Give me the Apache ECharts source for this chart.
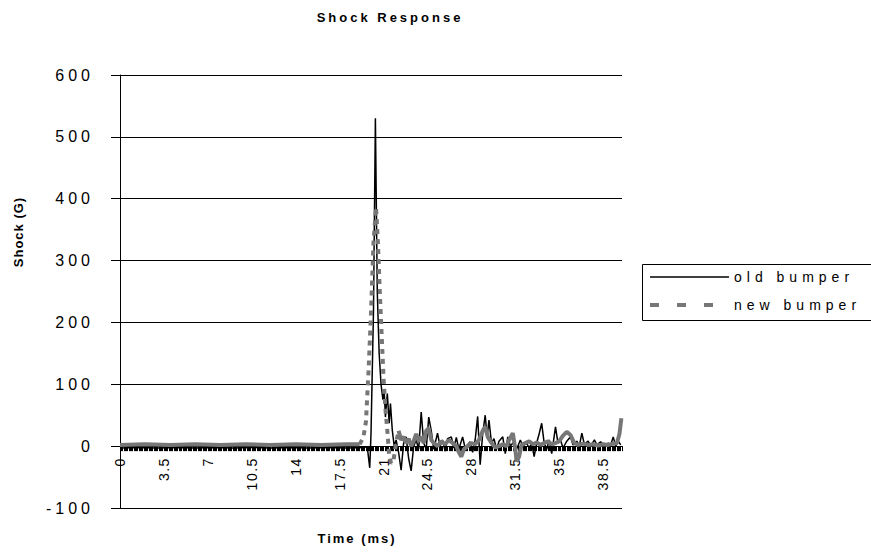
<!DOCTYPE html>
<html><head><meta charset="utf-8">
<script src="https://cdn.jsdelivr.net/npm/echarts@6.0.0/dist/echarts.min.js"></script>
<style>
html,body{margin:0;padding:0;background:#fff}
#c{width:871px;height:554px}
text[style*="lsA"]{letter-spacing:1.5px}
text[style*="lsB"]{letter-spacing:3px}
text[style*="lsC"]{letter-spacing:4px}
text[style*="lsD"]{letter-spacing:5px}
text[style*="lsE"]{letter-spacing:1px}
text[style*="lsF"]{letter-spacing:2px}
</style></head><body><div id="c"></div><script>
// ---- data (time in ms, shock in G) ----
const xTickLabels = ['0','3.5','7','10.5','14','17.5','21','24.5','28','31.5','35','38.5'];
const yTickLabels = ['-100','0','100','200','300','400','500','600'];

const oldBumper = [
 [0,-3],[1.5,-2],[3,-3],[4.5,-2],[6,-3],[7.5,-2],[9,-3],[10.5,-2],[12,-3],[13.5,-2],[15,-3],[16.5,-2],[18,-3],[19.5,-2],
 [19.7,-1],[19.9,-35],[20.0,20],[20.2,220],[20.35,530],[20.5,250],[20.65,150],[20.8,100],[20.95,75],[21.05,90],[21.15,47],
 [21.3,85],[21.45,37],[21.55,69],[21.7,25],[21.85,0],
 [22.0,10],[22.2,-10],[22.4,-39],[22.6,5],[22.8,15],[23.0,-20],[23.2,-40],[23.4,0],[23.6,10],[23.8,-5],[24.0,55],[24.2,5],
 [24.4,-5],[24.6,47],[24.8,25],[25.0,-5],[25.3,21],[25.5,0],[25.7,10],[25.9,-8],[26.1,12],[26.4,15],[26.6,-3],[26.8,14],
 [27.0,-5],[27.3,15],[27.5,-3],[27.9,7],[28.1,-10],[28.3,10],[28.5,48],[28.7,-30],[28.9,20],[29.1,50],[29.25,15],[29.4,42],
 [29.6,5],[29.8,12],[30.0,-5],[30.2,8],[30.5,15],[30.7,-12],[30.9,15],[31.1,0],[31.3,5],[31.6,-5],[31.9,10],[32.1,0],
 [32.4,5],[32.6,-3],[32.8,5],[33.0,-17],[33.2,5],[33.4,20],[33.6,37],[33.8,5],[34.0,-5],[34.2,10],[34.4,-12],[34.7,31],
 [34.9,5],[35.1,10],[35.3,-3],[35.6,8],[35.9,15],[36.1,2],[36.4,8],[36.6,0],[36.8,21],[37.0,3],[37.3,8],[37.5,0],
 [37.8,10],[38.0,2],[38.3,7],[38.6,0],[38.9,5],[39.1,2],[39.3,15],[39.5,0],[39.7,8],[39.9,2]
];

const newBumperPre = [
 [0,2],[2,3],[4,2],[6,3],[8,2],[10,3],[12,2],[14,3],[16,2],[18,3],[19.1,3]
];
const newBumperImpact = [
 [19.1,3],[19.4,15],[19.6,40],[19.8,120],[20.0,215],[20.2,330],[20.4,386],[20.55,330],[20.7,250],[20.85,180],
 [21.0,110],[21.15,60],[21.3,25],[21.45,-15],[21.6,-28],[21.8,-22],[22.0,5],[22.2,25]
];
const newBumperPost = [
 [22.2,25],[22.4,10],[22.6,15],[22.8,5],[23.0,12],[23.2,0],[23.4,8],[23.6,20],[23.8,8],[24.0,15],[24.2,5],[24.4,25],
 [24.6,29],[24.8,10],[25.0,5],[25.3,0],[25.6,8],[25.9,3],[26.2,10],[26.5,5],[26.8,0],[27.0,-10],[27.2,-17],[27.4,-5],
 [27.7,0],[28.0,5],[28.3,3],[28.6,10],[28.9,25],[29.1,31],[29.3,15],[29.6,5],[29.9,-2],[30.2,0],[30.5,3],[30.8,0],
 [31.0,10],[31.3,21],[31.5,-5],[31.6,-25],[31.8,-17],[32.0,2],[32.3,5],[32.6,8],[32.9,3],[33.2,6],[33.5,2],[33.8,5],
 [34.1,8],[34.4,3],[34.7,5],[35.0,8],[35.3,17],[35.6,23],[35.9,18],[36.2,5],[36.5,2],[36.9,4],[37.3,2],[37.7,3],
 [38.1,1],[38.5,3],[38.9,2],[39.3,4],[39.6,5],[39.8,20],[39.95,45]
];

const FONT = "'Liberation Sans'";
const GRID_TOP = 75, GRID_BOTTOM = 46, GRID_H = 554 - GRID_TOP - GRID_BOTTOM;
const Y_MIN = -100, Y_MAX = 600;
// move the category axis up to the zero line (axis line, ticks and labels together)
const zeroOffset = -GRID_H * (0 - Y_MIN) / (Y_MAX - Y_MIN);

const chart = echarts.init(document.getElementById('c'), null, {renderer: 'svg'});
chart.setOption({
  animation: false,
  backgroundColor: '#fff',
  grid: {left: 120, right: 249, top: GRID_TOP, bottom: GRID_BOTTOM, outerBoundsMode: 'none', containLabel: false},
  xAxis: {
    type: 'value', min: 0, max: 40, interval: 3.5, position: 'bottom', offset: zeroOffset,
    axisLine: {onZero: false, lineStyle: {color: '#000', width: 1}},
    axisTick: {show: true, length: 5, lineStyle: {color: '#000', width: 1}},
    minorTick: {show: true, splitNumber: 35, length: 5, lineStyle: {color: '#000', width: 1}},
    splitLine: {show: false},
    axisLabel: {
      rotate: 90, margin: 11, fontSize: 14, color: '#000', fontFamily: FONT + ', lsA',
      showMaxLabel: false,
      formatter: v => { const s = String(Math.round(v * 10) / 10); return xTickLabels.includes(s) ? s : ''; }
    }
  },
  yAxis: {
    type: 'value', min: Y_MIN, max: Y_MAX, interval: 100,
    axisLine: {show: true, lineStyle: {color: '#000', width: 1}},
    axisTick: {show: true, length: 9, lineStyle: {color: '#000', width: 1}},
    splitLine: {show: true, lineStyle: {color: '#000', width: 1}},
    axisLabel: {
      margin: 26, fontSize: 16, color: '#000', fontFamily: FONT + ', lsC',
      formatter: v => { const s = String(v); return yTickLabels.includes(s) ? s : ''; }
    }
  },
  legend: {
    orient: 'vertical', left: 648, top: 270, padding: 0, itemWidth: 79, itemHeight: 14, itemGap: 14,
    selectedMode: false,
    textStyle: {fontSize: 14, color: '#000', fontFamily: FONT + ', lsD'},
    data: [
      {name: 'old bumper', lineStyle: {color: '#000', width: 1.5, type: 'solid'},
       itemStyle: {opacity: 0, color: 'rgba(0,0,0,0)', borderWidth: 0}},
      {name: 'new bumper', lineStyle: {color: '#777', width: 4, type: [9, 18]},
       itemStyle: {opacity: 0, color: 'rgba(0,0,0,0)', borderWidth: 0}}
    ]
  },
  graphic: [
    {type: 'rect', silent: true, shape: {x: 642.5, y: 264.5, width: 240, height: 56},
     style: {fill: 'none', stroke: '#000', lineWidth: 1}, z: 0},
    {type: 'text', x: 390, y: 17, style: {text: 'Shock Response', fontSize: 13, fontWeight: 'bold',
      fontFamily: FONT + ', lsB', fill: '#000', align: 'center', verticalAlign: 'middle'}},
    {type: 'text', x: 18, y: 232, rotation: Math.PI / 2, style: {text: 'Shock (G)', fontSize: 13, fontWeight: 'bold',
      fontFamily: FONT + ', lsE', fill: '#000', align: 'center', verticalAlign: 'middle'}},
    {type: 'text', x: 357, y: 538, style: {text: 'Time (ms)', fontSize: 13, fontWeight: 'bold',
      fontFamily: FONT + ', lsF', fill: '#000', align: 'center', verticalAlign: 'middle'}}
  ],
  series: [
    {name: 'old bumper', type: 'line', data: oldBumper, symbol: 'none', z: 2,
     lineStyle: {color: '#000', width: 1.5}, itemStyle: {color: '#000'}},
    {name: 'new bumper', type: 'line', data: newBumperPre, symbol: 'none', z: 3,
     lineStyle: {color: '#777', width: 4}, itemStyle: {color: '#777'}},
    {name: 'new bumper', type: 'line', data: newBumperImpact, symbol: 'none', z: 3,
     lineStyle: {color: '#777', width: 4, type: [5, 5]}, itemStyle: {color: '#777'}},
    {name: 'new bumper', type: 'line', data: newBumperPost, symbol: 'none', z: 3,
     lineStyle: {color: '#777', width: 4}, itemStyle: {color: '#777'}}
  ]
});
</script></body></html>
